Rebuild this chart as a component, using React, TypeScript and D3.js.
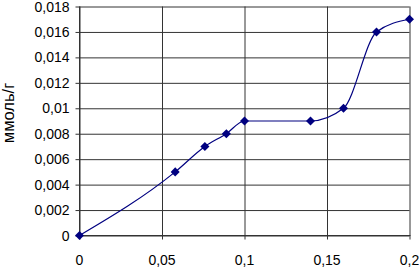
import React, { useEffect, useRef } from 'react';
import * as d3 from 'd3';

const xValues = [0, 0.058, 0.076, 0.089, 0.1, 0.14, 0.16, 0.18, 0.2];
const yValues = [0, 0.005, 0.007, 0.008, 0.009, 0.009, 0.01, 0.016, 0.017];
const xTicks = [0, 0.05, 0.1, 0.15, 0.2];
const yTicks = [0, 0.002, 0.004, 0.006, 0.008, 0.01, 0.012, 0.014, 0.016, 0.018];
const yLabel = 'ммоль/г';

const fmt = (d: number) => String(+d.toFixed(3)).replace('.', ',');
const FONT = 'Liberation Sans, Arial, sans-serif';

function Chart() {
  const ref = useRef<SVGSVGElement>(null);

  useEffect(() => {
    const svg = d3.select(ref.current);
    svg.selectAll('*').remove();

    const width = 419;
    const height = 267;
    const margin = { top: 6.5, right: 9, bottom: 31.5, left: 79.5 };
    const w = width - 79.5 - margin.right - 0.5;
    const h = height - margin.top - margin.bottom;

    const x = d3.scaleLinear().domain([0, 0.2]).range([0, w]);
    const y = d3.scaleLinear().domain([0, 0.018]).range([h, 0]);

    const g = svg.append('g').attr('transform', `translate(${margin.left},${margin.top})`);

    // horizontal gridlines
    g.append('g')
      .call(d3.axisLeft(y).tickValues(yTicks).tickSize(-w).tickFormat(() => ''))
      .call(s => s.select('.domain').remove())
      .selectAll('line').attr('stroke', '#333').attr('x1', -4);

    // vertical gridlines
    g.append('g')
      .attr('transform', `translate(0,${h})`)
      .call(d3.axisBottom(x).tickValues(xTicks).tickSize(-h).tickFormat(() => ''))
      .call(s => s.select('.domain').remove())
      .selectAll('line').attr('stroke', '#333').attr('y1', 4);

    // axes lines
    g.append('line').attr('x1', 0).attr('x2', w + 1).attr('y1', h).attr('y2', h).attr('stroke', '#333');
    g.append('line').attr('x1', 0).attr('x2', 0).attr('y1', 0).attr('y2', h).attr('stroke', '#333');

    g.selectAll('.ylab')
      .data(yTicks)
      .enter().append('text')
      .attr('x', -10)
      .attr('y', d => y(d))
      .attr('dy', '0.36em')
      .attr('text-anchor', 'end')
      .attr('font-family', FONT)
      .attr('font-size', 14)
      .attr('fill', '#000')
      .text(d => fmt(d));

    g.selectAll('.xlab')
      .data(xTicks)
      .enter().append('text')
      .attr('x', d => x(d))
      .attr('y', h + 29.5)
      .attr('text-anchor', 'middle')
      .attr('font-family', FONT)
      .attr('font-size', 14)
      .attr('fill', '#000')
      .text(d => fmt(d));

    svg.append('text')
      .attr('transform', `translate(13.5,113) rotate(-90)`)
      .attr('text-anchor', 'middle')
      .attr('font-family', FONT)
      .attr('font-size', 16.5)
      .attr('fill', '#000')
      .text(yLabel);

    const data = xValues.map((v, i) => [v, yValues[i]] as [number, number]);

    // smoothed line, flat where the data is flat
    const line = d3.line<[number, number]>()
      .x(d => x(d[0]))
      .y(d => y(d[1]))
      .curve(d3.curveMonotoneX);

    g.append('path')
      .datum(data)
      .attr('fill', 'none')
      .attr('stroke', '#000080')
      .attr('stroke-width', 1.2)
      .attr('d', line);

    const diamond = d3.symbol().type(d3.symbolDiamond2).size(52);
    g.selectAll('.dot')
      .data(data)
      .enter().append('path')
      .attr('d', diamond)
      .attr('transform', d => `translate(${x(d[0])},${y(d[1])})`)
      .attr('fill', '#000080');
  }, []);

  return <svg ref={ref} width={419} height={267} style={{ display: 'block' }} />;
}

export default function App() {
  return (
    <div style={{ position: 'absolute', left: 0, top: 0 }}>
      <Chart />
    </div>
  );
}
